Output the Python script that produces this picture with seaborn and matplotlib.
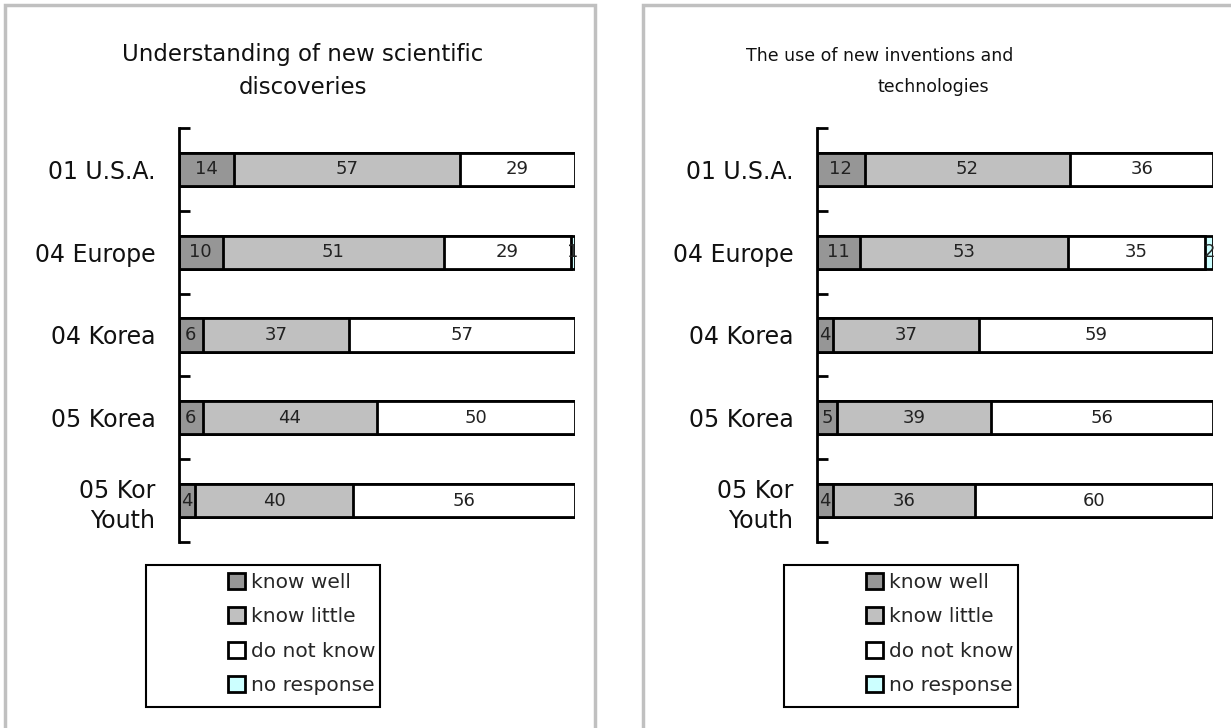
import matplotlib
matplotlib.use("Agg")
import matplotlib.pyplot as plt
import seaborn as sns
import numpy as np
import pandas as pd
from matplotlib.patches import Patch, Rectangle

# Survey categories
groups = ["01 U.S.A.", "04 Europe", "04 Korea", "05 Korea", "05 Kor\nYouth"]
responses = ["know well", "know little", "do not know", "no response"]
colors = ["#969696", "#c0c0c0", "#ffffff", "#ccffff"]

# Understanding of new scientific discoveries (%)
science_well = [14, 10, 6, 6, 4]
science_little = [57, 51, 37, 44, 40]
science_not = [29, 29, 57, 50, 56]
science_none = [0, 1, 0, 0, 0]

# The use of new inventions and technologies (%)
tech_well = [12, 11, 4, 5, 4]
tech_little = [52, 53, 37, 39, 36]
tech_not = [36, 35, 59, 56, 60]
tech_none = [0, 2, 0, 0, 0]

science_title = ["Understanding of new scientific", "discoveries"]
tech_title = ["The use of new inventions and", "technologies"]

sns.set_theme(style="white")
plt.rcParams["font.family"] = ["DejaVu Sans"]

W, H = 1231, 728
fig = plt.figure(figsize=(W / 100, H / 100), dpi=100)


def px_rect(x0, y0, x1, y1):
    return [x0 / W, 1 - y1 / H, (x1 - x0) / W, (y1 - y0) / H]


def draw_panel(offset, counts, title_lines, title_pos, title_size):
    ax = fig.add_axes(px_rect(179 + offset, 128, 575 + offset, 542))
    df = pd.DataFrame(dict(zip(responses, counts)), index=groups)
    share = df.div(df.sum(axis=1), axis=0) * 100
    cum = share.cumsum(axis=1)
    # stacked bars: draw cumulative totals from the outermost segment inwards
    for resp, color in reversed(list(zip(responses, colors))):
        sns.barplot(x=cum[resp].values, y=groups, order=groups, orient="h",
                    color=color, saturation=1, edgecolor="black",
                    linewidth=2, width=0.4, ax=ax)
    for i, g in enumerate(groups):
        for resp in responses:
            v = df.loc[g, resp]
            if v > 0:
                ax.text(cum.loc[g, resp] - share.loc[g, resp] / 2, i, str(v),
                        ha="center", va="center", fontsize=13, color="#222222")
    ax.set_xlim(0, 100)
    ax.set_ylim(4.5, -0.5)
    ax.set_xlabel("")
    ax.set_ylabel("")
    ax.set_xticks([])
    for s in ["top", "right", "bottom"]:
        ax.spines[s].set_visible(False)
    ax.spines["left"].set_color("black")
    ax.spines["left"].set_linewidth(2)
    ax.set_yticks(range(len(groups)))
    ax.set_yticklabels(groups, fontsize=17, color="#111111", linespacing=1.3)
    ax.tick_params(axis="y", which="major", length=0, pad=17)
    ax.set_yticks(np.arange(-0.5, len(groups), 1), minor=True)
    ax.tick_params(axis="y", which="minor", direction="in", length=8,
                   width=2, color="black", left=True)
    ax.patch.set_alpha(0)

    for line, (tx, ty) in zip(title_lines, title_pos):
        fig.text((tx + offset) / W, 1 - ty / H, line, ha="center",
                 va="center", fontsize=title_size, color="#111111")

    # outer panel frame
    x0, y0, w, h = px_rect(5 + offset, 5, 595 + offset, 732)
    fig.add_artist(Rectangle((x0, y0), w, h, transform=fig.transFigure,
                             fill=False, ec="#c0c0c0", lw=2.5))
    # legend frame
    x0, y0, w, h = px_rect(146 + offset, 565, 380 + offset, 707)
    fig.add_artist(Rectangle((x0, y0), w, h, transform=fig.transFigure,
                             fill=False, ec="black", lw=1.5))
    handles = [Patch(facecolor=c, edgecolor="black", linewidth=2, label=r)
               for r, c in zip(responses, colors)]
    fig.legend(handles=handles, loc="upper left",
               bbox_to_anchor=((228 + offset) / W, 1 - 573 / H),
               frameon=False, fontsize=14.5, handlelength=0.85,
               handleheight=0.85, handletextpad=0.3, labelspacing=0.76,
               borderpad=0, borderaxespad=0)
    return ax


draw_panel(0, [science_well, science_little, science_not, science_none],
           science_title, [(303, 55), (303, 88)], 16.5)
draw_panel(638, [tech_well, tech_little, tech_not, tech_none],
           tech_title, [(242, 56), (295, 87)], 12.5)

fig.savefig("out.png", dpi=100, facecolor="white")
